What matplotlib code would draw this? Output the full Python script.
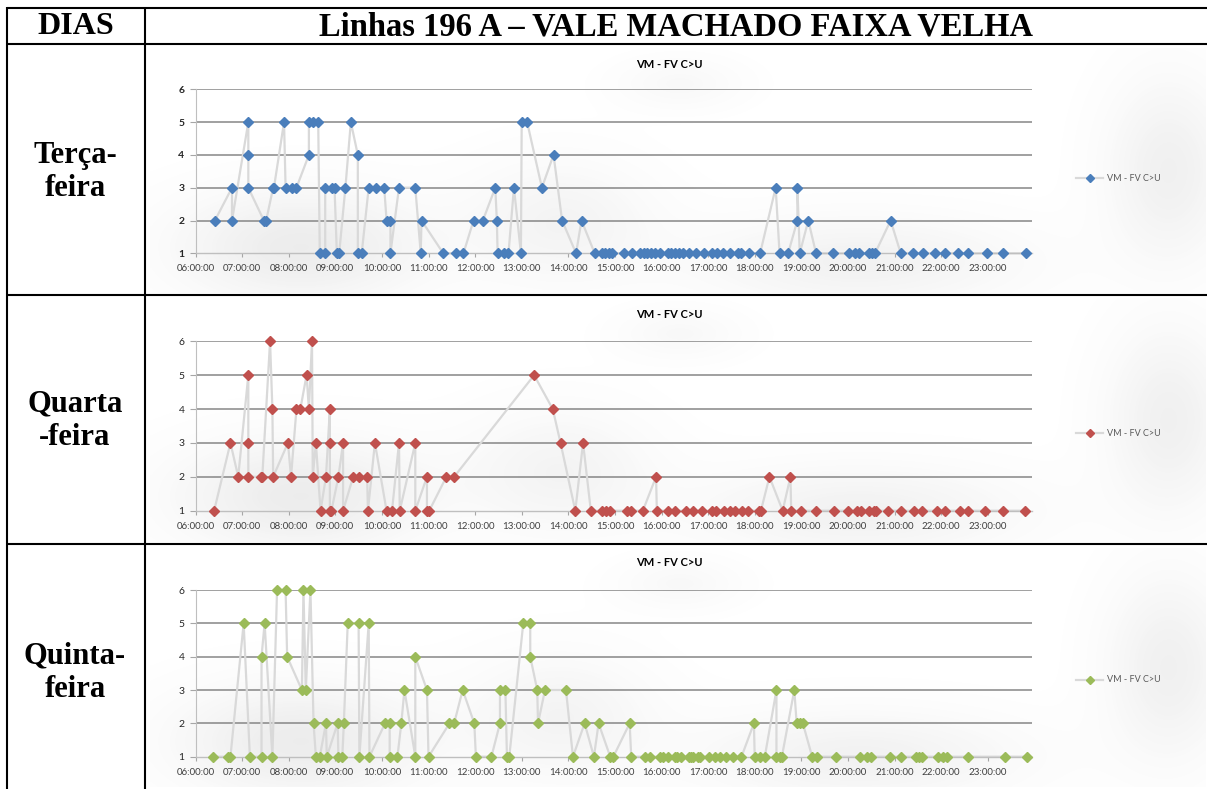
import numpy as np
import matplotlib
matplotlib.use("Agg")
import matplotlib.pyplot as plt

# ---------------- data ----------------
days = ["Terça-\nfeira", "Quarta\n-feira", "Quinta-\nfeira"]
header_left = "DIAS"
header_main = "Linhas 196 A – VALE MACHADO FAIXA VELHA"
chart_title = "VM - FV C>U"
series_name = "VM - FV C>U"
hour_ticks = list(range(6, 24))
hour_labels = [f"{h:02d}:00:00" for h in hour_ticks]
y_ticks = [1, 2, 3, 4, 5, 6]

tue_times = ["06:25", "06:47", "06:47", "07:08", "07:08", "07:08", "07:28", "07:31", "07:40", "07:41",
             "07:54", "07:56", "08:04", "08:10", "08:26", "08:26", "08:31", "08:38", "08:40", "08:47",
             "08:47", "08:56", "08:59", "09:02", "09:05", "09:13", "09:20", "09:29", "09:29", "09:34",
             "09:43", "09:53", "10:03", "10:06", "10:11", "10:11", "10:22", "10:43", "10:50", "10:51",
             "11:19", "11:35", "11:45", "11:58", "12:10", "12:26", "12:28", "12:29", "12:37", "12:43",
             "12:50", "12:59", "13:00", "13:07", "13:26", "13:41", "13:52", "14:10", "14:17", "14:34",
             "14:44", "14:47", "14:53", "14:56", "15:12", "15:22", "15:32", "15:37", "15:41", "15:47",
             "15:52", "15:58", "16:08", "16:12", "16:17", "16:22", "16:28", "16:36", "16:45", "16:55",
             "17:05", "17:11", "17:19", "17:28", "17:39", "17:42", "17:53", "18:07", "18:27", "18:32",
             "18:43", "18:55", "18:55", "18:58", "19:09", "19:19", "19:41", "20:02", "20:09", "20:14",
             "20:27", "20:31", "20:35", "20:55", "21:08", "21:24", "21:37", "21:52", "22:05", "22:22",
             "22:35", "22:59", "23:20", "23:49"]
tue_vals = [2, 3, 2, 5, 4, 3, 2, 2, 3, 3,
            5, 3, 3, 3, 4, 5, 5, 5, 1, 1,
            3, 3, 3, 1, 1, 3, 5, 4, 1, 1,
            3, 3, 3, 2, 2, 1, 3, 3, 1, 2,
            1, 1, 1, 2, 2, 3, 2, 1, 1, 1,
            3, 1, 5, 5, 3, 4, 2, 1, 2, 1,
            1, 1, 1, 1, 1, 1, 1, 1, 1, 1,
            1, 1, 1, 1, 1, 1, 1, 1, 1, 1,
            1, 1, 1, 1, 1, 1, 1, 1, 3, 1,
            1, 2, 3, 1, 2, 1, 1, 1, 1, 1,
            1, 1, 1, 2, 1, 1, 1, 1, 1, 1,
            1, 1, 1, 1]

wed_times = ["06:24", "06:45", "06:55", "07:08", "07:08", "07:08", "07:24", "07:26", "07:36", "07:39",
             "07:40", "07:59", "08:03", "08:10", "08:15", "08:23", "08:26", "08:30", "08:31", "08:35",
             "08:41", "08:48", "08:53", "08:53", "08:53", "08:55", "09:04", "09:10", "09:10", "09:23",
             "09:31", "09:41", "09:42", "09:51", "10:06", "10:13", "10:22", "10:23", "10:43", "10:43",
             "10:58", "10:58", "11:01", "11:23", "11:33", "13:16", "13:40", "13:50", "14:09", "14:19",
             "14:29", "14:44", "14:49", "14:54", "15:15", "15:21", "15:36", "15:53", "15:54", "16:09",
             "16:17", "16:32", "16:41", "16:52", "17:05", "17:10", "17:21", "17:28", "17:35", "17:44",
             "17:52", "18:05", "18:08", "18:19", "18:36", "18:46", "18:47", "18:59", "19:19", "19:42",
             "20:00", "20:12", "20:17", "20:27", "20:34", "20:36", "20:52", "21:08", "21:25", "21:35",
             "21:55", "22:05", "22:24", "22:35", "22:57", "23:20", "23:48"]
wed_vals = [1, 3, 2, 5, 3, 2, 2, 2, 6, 4,
            2, 3, 2, 4, 4, 5, 4, 6, 2, 3,
            1, 2, 4, 3, 1, 1, 2, 3, 1, 2,
            2, 2, 1, 3, 1, 1, 3, 1, 3, 1,
            2, 1, 1, 2, 2, 5, 4, 3, 1, 3,
            1, 1, 1, 1, 1, 1, 1, 2, 1, 1,
            1, 1, 1, 1, 1, 1, 1, 1, 1, 1,
            1, 1, 1, 2, 1, 2, 1, 1, 1, 1,
            1, 1, 1, 1, 1, 1, 1, 1, 1, 1,
            1, 1, 1, 1, 1, 1, 1]

thu_times = ["06:23", "06:42", "06:45", "07:02", "07:10", "07:25", "07:25", "07:29", "07:39", "07:45",
             "07:56", "07:58", "08:17", "08:19", "08:22", "08:28", "08:32", "08:35", "08:40", "08:48",
             "08:49", "09:03", "09:04", "09:09", "09:11", "09:16", "09:30", "09:31", "09:43", "09:44",
             "10:04", "10:10", "10:10", "10:20", "10:25", "10:29", "10:43", "10:43", "10:58", "11:00",
             "11:27", "11:33", "11:44", "11:59", "12:01", "12:21", "12:32", "12:32", "12:39", "12:41",
             "12:44", "13:02", "13:11", "13:11", "13:20", "13:21", "13:30", "13:57", "14:06", "14:21",
             "14:33", "14:39", "14:54", "14:58", "15:19", "15:21", "15:39", "15:45", "15:58", "16:02",
             "16:08", "16:17", "16:20", "16:25", "16:35", "16:38", "16:41", "16:47", "16:50", "17:01",
             "17:09", "17:15", "17:23", "17:32", "17:43", "17:59", "18:00", "18:07", "18:13", "18:28",
             "18:28", "18:32", "18:35", "18:51", "18:54", "18:58", "19:02", "19:14", "19:20", "19:45",
             "20:15", "20:25", "20:30", "20:54", "21:08", "21:28", "21:32", "21:35", "21:56", "22:02",
             "22:07", "22:35", "23:22", "23:51"]
thu_vals = [1, 1, 1, 5, 1, 1, 4, 5, 1, 6,
            6, 4, 3, 6, 3, 6, 2, 1, 1, 2,
            1, 2, 1, 1, 2, 5, 5, 1, 5, 1,
            2, 2, 1, 1, 2, 3, 1, 4, 3, 1,
            2, 2, 3, 2, 1, 1, 2, 3, 3, 1,
            1, 5, 5, 4, 3, 2, 3, 3, 1, 2,
            1, 2, 1, 1, 2, 1, 1, 1, 1, 1,
            1, 1, 1, 1, 1, 1, 1, 1, 1, 1,
            1, 1, 1, 1, 1, 2, 1, 1, 1, 3,
            1, 1, 1, 3, 2, 2, 2, 1, 1, 1,
            1, 1, 1, 1, 1, 1, 1, 1, 1, 1,
            1, 1, 1, 1]

series = [(tue_times, tue_vals, "#4A7EBB"),
          (wed_times, wed_vals, "#C0504D"),
          (thu_times, thu_vals, "#9BBB59")]


def to_hours(t):
    h, m = t.split(":")
    return int(h) + int(m) / 60.0


# ---------------- layout ----------------
W, H = 1207, 789
fig = plt.figure(figsize=(W / 100, H / 100), dpi=100)
fig.patch.set_facecolor("white")

ov = fig.add_axes([0, 0, 1, 1], zorder=0)
ov.set_xlim(0, W)
ov.set_ylim(H, 0)
ov.axis("off")

rows = [(43.7, 294.5), (294.5, 544.0), (544.0, 789.0)]
chart_y = [(89.3, 253.3), (341.3, 510.7), (590.0, 756.7)]
title_y = [64, 314, 563]
legend_y = [178, 433, 680]
day_y = [172, 421, 673]
x_left_px, x_right_px = 195.5, 1032.0
px_per_hour = 46.6

# soft shadows like the pasted chart images
def blob_layer(top, bottom):
    xs = np.linspace(150, 1206, 400)
    ys = np.linspace(top, bottom, 120)
    X, Y = np.meshgrid(xs, ys)
    b = np.zeros_like(X)
    centers = [(300, bottom - 45, 120, 55, 1.0), (560, bottom - 70, 90, 60, 0.6),
               (860, bottom - 30, 160, 45, 0.7), (1170, (top + bottom) / 2, 60, 90, 0.8),
               (680, top + 35, 60, 25, 0.35)]
    for cx, cy, sx, sy, a in centers:
        b += a * np.exp(-(((X - cx) / sx) ** 2 + ((Y - cy) / sy) ** 2))
    b = np.clip(b, 0, 1)
    img = np.zeros(X.shape + (4,))
    img[..., :3] = 0.45
    img[..., 3] = 0.13 * b
    return img

for (top, bottom) in rows:
    ov.imshow(blob_layer(top + 4, bottom - 2), extent=(150, 1206, bottom - 2, top + 4),
              aspect="auto", interpolation="bilinear", zorder=0.5)

# table lines
lw_tab = 1.5
ov.plot([7.3, W + 5], [7.7, 7.7], color="black", lw=lw_tab, solid_capstyle="butt", zorder=3)
for (top, bottom) in rows[:2]:
    ov.plot([7.3, W + 5], [bottom, bottom], color="black", lw=lw_tab, solid_capstyle="butt", zorder=3)
ov.plot([7.3, W + 5], [43.7, 43.7], color="black", lw=lw_tab, solid_capstyle="butt", zorder=3)
ov.plot([7.3, 7.3], [7.0, H + 5], color="black", lw=lw_tab, solid_capstyle="butt", zorder=3)
ov.plot([145.0, 145.0], [7.0, H + 5], color="black", lw=lw_tab, solid_capstyle="butt", zorder=3)

serif = ["Liberation Serif", "DejaVu Serif"]
ov.text(76, 26.5, header_left, ha="center", va="center", fontsize=23,
        fontweight="bold", family=serif, zorder=4)
ov.text(676, 26.5, header_main, ha="center", va="center", fontsize=23.5,
        fontweight="bold", family=serif, zorder=4)
for label, yy in zip(days, day_y):
    ov.text(75, yy, label, ha="center", va="center", fontsize=22, fontweight="bold",
            family=serif, linespacing=1.2, zorder=4)

sans = ["Lato", "DejaVu Sans"]
grid_col = "#868686"
line_col = "#D9D9D9"
xmax = 6 + (x_right_px - x_left_px) / px_per_hour

for i, ((times, vals, col), (y6, y1)) in enumerate(zip(series, chart_y)):
    rect = [x_left_px / W, 1 - y1 / H, (x_right_px - x_left_px) / W, (y1 - y6) / H]
    ax = fig.add_axes(rect, zorder=2)
    ax.set_facecolor("none")
    xh = [to_hours(t) for t in times]
    ax.plot(xh, vals, color=line_col, lw=1.6, zorder=2, clip_on=False)
    ax.plot(xh, vals, linestyle="none", marker="D", markersize=5.0,
            color=col, markeredgecolor=col, zorder=3, clip_on=False)
    ax.set_xlim(6, xmax)
    ax.set_ylim(1, 6)
    for yv in y_ticks[1:]:
        ax.axhline(yv, color=grid_col, lw=1.1, zorder=1)
    ax.set_xticks(hour_ticks)
    ax.set_xticklabels(hour_labels, fontsize=7, color="#404040", family=sans)
    ax.set_yticks(y_ticks)
    ax.set_yticklabels([str(v) for v in y_ticks], fontsize=7.5, color="#262626",
                       family=sans, fontweight="bold" if i == 0 else "normal")
    ax.tick_params(axis="x", length=3, width=0.8, color="#A6A6A6", pad=5)
    ax.tick_params(axis="y", length=4, width=0.8, color="#A6A6A6", pad=4)
    for s in ["top", "right"]:
        ax.spines[s].set_visible(False)
    ax.spines["left"].set_color("#BFBFBF")
    ax.spines["left"].set_linewidth(0.8)
    ax.spines["bottom"].set_color("#BFBFBF")
    ax.spines["bottom"].set_linewidth(1.0)

    # chart title
    ov.text(669, title_y[i], chart_title, ha="center", va="center", fontsize=8,
            fontweight="bold", family=sans, color="black", zorder=4)
    # legend
    ly = legend_y[i]
    ov.plot([1076, 1103], [ly, ly], color=line_col, lw=1.6, zorder=4)
    ov.plot([1089.5], [ly], marker="D", markersize=4.2, color=col, linestyle="none", zorder=5)
    ov.text(1107, ly, series_name, ha="left", va="center", fontsize=6.5,
            color="#595959", family=sans, zorder=4)

fig.savefig("out.png", dpi=100, facecolor="white")
